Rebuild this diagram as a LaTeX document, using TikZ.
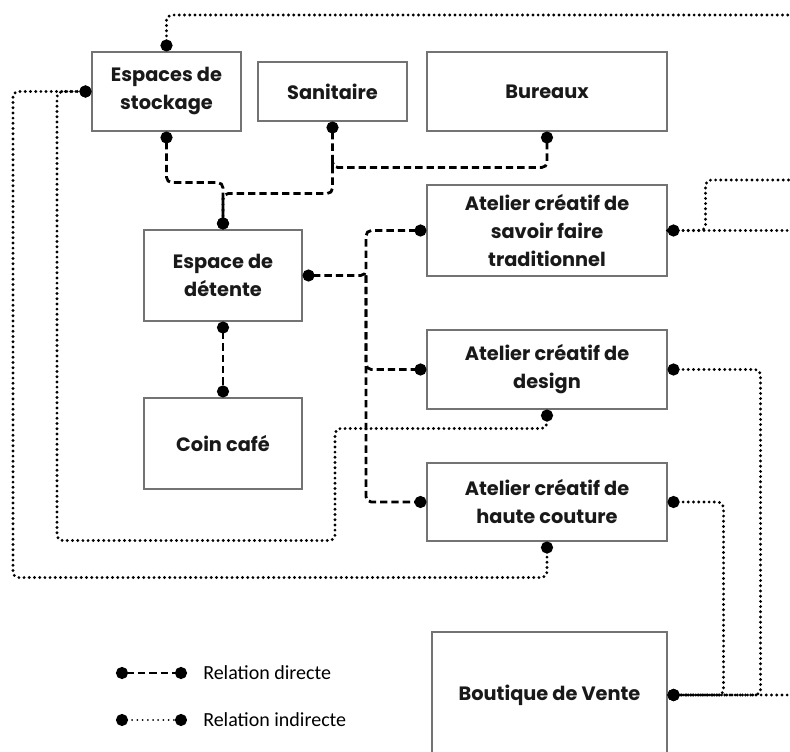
\documentclass[tikz,border=0pt]{standalone}
\usepackage{fontspec}
\usepackage{tikz}
\usetikzlibrary{arrows.meta, positioning, calc}
\newfontfamily\boxfont{Poppins}
\newfontfamily\legendfont{Carlito}
\tikzset{
  room/.style     = {rectangle, draw=black!55, line width=0.8pt, align=center,
                     font=\boxfont\bfseries\fontsize{14.5}{21}\selectfont,
                     text=black!90, inner sep=2pt},
  direct/.style   = {dash pattern=on 5.5pt off 3pt, line width=2.1pt,
                     rounded corners=4pt},
  indirect/.style = {dash pattern=on 0pt off 3.9pt, line cap=round,
                     line width=2.4pt, rounded corners=4pt},
  both/.style     = {{Circle[length=9pt]}-{Circle[length=9pt]}},
  first/.style    = {{Circle[length=9pt]}-},
  last/.style     = {-{Circle[length=9pt]}},
  legtxt/.style   = {font=\legendfont\fontsize{15}{17}\selectfont, inner sep=0pt},
}
\begin{document}
\begin{tikzpicture}[x=0.75pt, y=-0.75pt]
  \useasboundingbox (0,0) rectangle (790,752);

  % rooms
  \node[room, minimum width=111.75pt, minimum height=59.25pt] (stock)   at (166.5,91.5) {Espaces de\\stockage};
  \node[room, minimum width=111.75pt, minimum height=44.25pt] (sanit)   at (332.5,91.5) {Sanitaire};
  \node[room, minimum width=180pt,    minimum height=59.25pt] (bureaux) at (547,91.5)   {Bureaux};
  \node[room, minimum width=180pt,    minimum height=68.25pt] (savoir)  at (547,230.5)  {Atelier créatif de\\savoir faire\\traditionnel};
  \node[room, minimum width=118.5pt,  minimum height=68.25pt] (detente) at (223,275.5)  {Espace de\\détente};
  \node[room, minimum width=118.5pt,  minimum height=68.25pt] (cafe)    at (223,443.5)  {Coin café};
  \node[room, minimum width=180pt,    minimum height=59.25pt] (design)  at (547,369.5)  {Atelier créatif de\\design};
  \node[room, minimum width=180pt,    minimum height=58.5pt]  (couture) at (547,502)    {Atelier créatif de\\haute couture};
  \node[room, minimum width=176.25pt, minimum height=94.5pt]  (boutique) at (549.5,695) {Boutique de Vente};

  % free ends at the right edge
  \coordinate (exitA) at (800,15);
  \coordinate (exitB) at (800,230.5);
  \coordinate (exitC) at (800,180);
  \coordinate (exitD) at (800,695);
  \coordinate (trunk) at (366,275.5);

  % direct relations
  \draw[direct, both]  (stock.south) -- ++(0,51) -| (detente.north);
  \draw[direct, both]  (sanit.south) -- ++(0,72) -| (detente.north);
  \draw[direct, first] (bureaux.south) -- ++(0,36) -| ($(sanit.south)+(0,46)$);
  \draw[direct, both]  (detente.east) -- (trunk) |- (savoir.west);
  \draw[direct, last]  (trunk) |- (design.west);
  \draw[direct, last]  (trunk) |- (couture.west);
  \draw[direct, both]  (detente.south) -- (cafe.north);

  % indirect relations
  \draw[indirect, first] (stock.north) |- (exitA) -- ++(0,40);
  \draw[indirect, first] (savoir.east) -- (exitB);
  \draw[indirect] (savoir.east) -- ++(38,0) |- (exitC);
  \draw[indirect, both] (design.east) -- ++(93,0) |- (boutique.east);
  \draw[indirect, both] (couture.east) -- ++(56,0) |- (boutique.east);
  \draw[indirect, first] (boutique.east) -- (exitD);
  \draw[indirect, both] (design.south) -- ++(0,19) -- ++(-212,0) -- ++(0,112)
    -- ++(-278,0) |- (stock.west);
  \draw[indirect, both] (couture.south) -- ++(0,36) -- ++(-534,0) |- (stock.west);

  % legend
  \coordinate (legA1) at (116,673);
  \coordinate (legA2) at (187,673);
  \coordinate (legB1) at (116,720);
  \coordinate (legB2) at (187,720);
  \draw[direct, both, rounded corners=0pt] (legA1) -- (legA2);
  \draw[indirect, both, rounded corners=0pt, line width=1.5pt] (legB1) -- (legB2);
  \node[legtxt, right=12pt of legA2] (legA) {Relation directe};
  \node[legtxt, right=12pt of legB2] (legB) {Relation indirecte};
\end{tikzpicture}
\end{document}
